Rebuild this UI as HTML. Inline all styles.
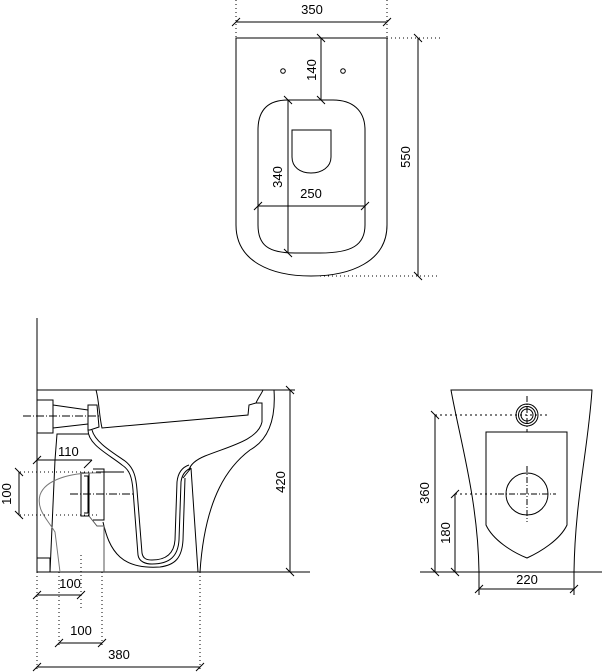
<!DOCTYPE html>
<html><head><meta charset="utf-8"><style>
html,body{margin:0;padding:0;background:#fff;}
svg{display:block;}
text{font-family:"Liberation Sans",sans-serif;font-size:13px;fill:#000;}
</style></head><body>
<svg width="602" height="672" viewBox="0 0 602 672" xmlns="http://www.w3.org/2000/svg" fill="none" stroke="#000" stroke-width="1">
<!-- ===== TOP VIEW ===== -->
<g>
<line x1="236" y1="0" x2="236" y2="38" stroke-dasharray="1,3"/>
<line x1="387" y1="0" x2="387" y2="38" stroke-dasharray="1,3"/>
<line x1="236" y1="22" x2="387" y2="22"/>
<line x1="232" y1="26" x2="240" y2="18"/><line x1="383" y1="26" x2="391" y2="18"/>
<text x="312" y="14" text-anchor="middle" stroke="none">350</text>
<path d="M236 38 L387 38 L387 225 C387 262 350 276 311 276 C272 276 236 262 236 225 Z"/>
<line x1="387" y1="38" x2="440" y2="38" stroke-dasharray="1,3"/>
<line x1="320" y1="276" x2="440" y2="276" stroke-dasharray="1,3"/>
<line x1="418" y1="38" x2="418" y2="276"/>
<line x1="414" y1="34" x2="422" y2="42"/><line x1="414" y1="272" x2="422" y2="280"/>
<text transform="translate(410,157) rotate(-90)" text-anchor="middle" stroke="none">550</text>
<circle cx="283" cy="71" r="2.3"/><circle cx="343" cy="71" r="2.3"/>
<line x1="321" y1="38" x2="321" y2="100"/>
<line x1="317" y1="34" x2="325" y2="42"/><line x1="317" y1="96" x2="325" y2="104"/>
<text transform="translate(316,70) rotate(-90)" text-anchor="middle" stroke="none">140</text>
<path d="M288 100 L333 100 C352 100 365 110 365 130 L365 225 C365 245 352 253 320 253 L295 253 C268 253 258 245 258 225 L258 130 C258 110 268 100 288 100 Z"/>
<path d="M292 130 L331 130 L331 157 C331 167 322 173 311 173 C300 173 292 167 292 157 Z"/>
<line x1="288" y1="100" x2="288" y2="253"/>
<line x1="284" y1="96" x2="292" y2="104"/><line x1="284" y1="249" x2="292" y2="257"/>
<text transform="translate(282,177) rotate(-90)" text-anchor="middle" stroke="none">340</text>
<line x1="258" y1="206" x2="365" y2="206"/>
<line x1="254" y1="210" x2="262" y2="202"/><line x1="361" y1="210" x2="369" y2="202"/>
<text x="311" y="198" text-anchor="middle" stroke="none">250</text>
</g>

<!-- ===== SIDE VIEW ===== -->
<g>
<line x1="37" y1="318" x2="37" y2="572"/>
<line x1="37" y1="572" x2="310" y2="572"/>
<line x1="37" y1="390" x2="274" y2="390"/>
<rect x="37" y="400" width="16" height="33"/>
<path d="M53 405 L88 410 M53 428 L88 424"/>
<path d="M88 405 L97 405 L99 427 L90 430 L88 430 Z"/>
<line x1="23" y1="416" x2="100" y2="416" stroke-dasharray="8,2,1,2"/>
<path d="M96 390 C99 400 99 415 102 428 L248 415 L249 405 L256 403 C258 398 262 393 263 390"/>
<path d="M256 403 L262 403 L262 422"/>
<path d="M274 390 C276 420 268 440 250 450 C230 465 205 495 200 572"/>
<path d="M262 422 C258 440 230 446 205 456 C193 461 190 466 189 470"/>
<path d="M191 468 L198 572 M183 478 L191 468"/>
<path d="M88 430 C88 445 110 455 122 465 C130 470 132 478 133 490 L138 555 C139 562 146 564 152 564 C170 564 178 556 179 540 L181 482 C182 474 186 470 191 468"/>
<path d="M92 430 C95 442 112 452 125 461 C134 468 136 477 137 490 L142 553 C143 559 147 560 152 560 C167 560 174 553 175 540 L177 482 C178 472 183 467 189 465"/>
<path d="M103 522 C106 535 110 548 120 557 C130 566 145 568 160 567 C175 565 182 558 183 540 L185 478"/>
<path d="M37 460 L55 460 L50 572"/>
<path d="M55 460 L57 434 L88 434"/>
<line x1="37" y1="460" x2="92" y2="460"/>
<line x1="33" y1="464" x2="41" y2="456"/><line x1="84" y1="468" x2="92" y2="460"/>
<text x="58" y="456" stroke="none">110</text>
<path d="M96 472 L124 472"/>
<path d="M81 473 L89 473 L89 516 L81 516 Z M84 476 L88 476 L88 513 L84 513"/>
<path d="M93 469 L104 469 L104 520 L93 520"/>
<path d="M89 516 L97 526 L104 526 L104 572" stroke="#555"/>
<path d="M101 473 C70 472 45 480 40 495 C36 510 48 520 55 532 L60 572" stroke="#777"/>
<line x1="70" y1="494" x2="135" y2="494" stroke-dasharray="8,2,1,2"/>
<rect x="37" y="558" width="13" height="14"/>
<line x1="20" y1="472" x2="100" y2="472" stroke-dasharray="1,3"/>
<line x1="20" y1="515" x2="100" y2="515" stroke-dasharray="1,3"/>
<line x1="19" y1="472" x2="19" y2="515"/>
<line x1="15" y1="468" x2="23" y2="476"/><line x1="15" y1="511" x2="23" y2="519"/>
<text transform="translate(11,494) rotate(-90)" text-anchor="middle" stroke="none">100</text>
<line x1="274" y1="390" x2="295" y2="390"/>
<line x1="290" y1="390" x2="290" y2="572"/>
<line x1="286" y1="386" x2="294" y2="394"/><line x1="286" y1="568" x2="294" y2="576"/>
<text transform="translate(285,482) rotate(-90)" text-anchor="middle" stroke="none">420</text>
<line x1="37" y1="572" x2="37" y2="672" stroke-dasharray="1,3"/>
<line x1="59" y1="572" x2="59" y2="645" stroke-dasharray="1,3"/>
<line x1="81" y1="555" x2="81" y2="610" stroke-dasharray="1,3"/>
<line x1="102" y1="572" x2="102" y2="645" stroke-dasharray="1,3"/>
<line x1="200" y1="572" x2="200" y2="672" stroke-dasharray="1,3"/>
<line x1="37" y1="595" x2="81" y2="595"/>
<line x1="33" y1="599" x2="41" y2="591"/><line x1="77" y1="599" x2="85" y2="591"/>
<text x="70" y="588" text-anchor="middle" stroke="none">100</text>
<line x1="59" y1="643" x2="102" y2="643"/>
<line x1="55" y1="647" x2="63" y2="639"/><line x1="98" y1="647" x2="106" y2="639"/>
<text x="81" y="635" text-anchor="middle" stroke="none">100</text>
<line x1="37" y1="667" x2="200" y2="667"/>
<line x1="33" y1="671" x2="41" y2="663"/><line x1="196" y1="671" x2="204" y2="663"/>
<text x="119" y="659" text-anchor="middle" stroke="none">380</text>
</g>

<!-- ===== FRONT VIEW ===== -->
<g>
<path d="M451 390 L592 390 C588 450 575 500 574 572 L479 572 C478 500 460 440 451 390 Z"/>
<line x1="420" y1="572" x2="602" y2="572"/>
<path d="M486 432 L567 432 L567 525 C560 540 540 552 527 558 C512 552 493 540 486 525 Z"/>
<circle cx="527" cy="494" r="21"/>
<line x1="527" y1="466" x2="527" y2="522" stroke-dasharray="6,2,1,2"/>
<line x1="498" y1="494" x2="556" y2="494" stroke-dasharray="6,2,1,2"/>
<circle cx="527" cy="415" r="11"/><circle cx="527" cy="415" r="8.5"/><circle cx="527" cy="415" r="6"/>
<line x1="527" y1="396" x2="527" y2="432" stroke-dasharray="6,2,1,2"/>
<line x1="435" y1="415" x2="547" y2="415" stroke-dasharray="2,3"/>
<line x1="455" y1="494" x2="500" y2="494" stroke-dasharray="2,3"/>
<line x1="435" y1="415" x2="435" y2="572"/>
<line x1="431" y1="411" x2="439" y2="419"/><line x1="431" y1="568" x2="439" y2="576"/>
<text transform="translate(429,493) rotate(-90)" text-anchor="middle" stroke="none">360</text>
<line x1="455" y1="494" x2="455" y2="572"/>
<line x1="451" y1="498" x2="459" y2="490"/><line x1="451" y1="568" x2="459" y2="576"/>
<text transform="translate(450,533) rotate(-90)" text-anchor="middle" stroke="none">180</text>
<line x1="479" y1="572" x2="479" y2="595"/><line x1="574" y1="572" x2="574" y2="595"/>
<line x1="479" y1="589" x2="574" y2="589"/>
<line x1="475" y1="593" x2="483" y2="585"/><line x1="570" y1="593" x2="578" y2="585"/>
<text x="527" y="584" text-anchor="middle" stroke="none">220</text>
</g>
</svg>
</body></html>
